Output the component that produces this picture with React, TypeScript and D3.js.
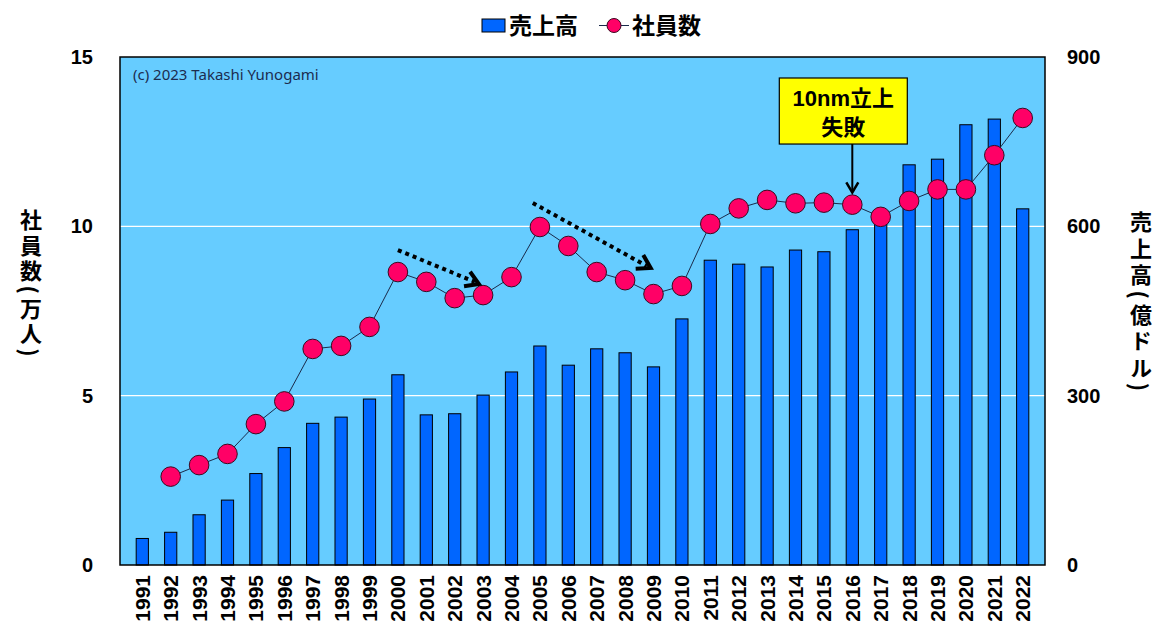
import React, { useEffect, useRef } from "react";
import * as d3 from "d3";

// fiscal years
const years: string[] = [
  "1991", "1992", "1993", "1994", "1995", "1996", "1997", "1998", "1999", "2000",
  "2001", "2002", "2003", "2004", "2005", "2006", "2007", "2008", "2009", "2010",
  "2011", "2012", "2013", "2014", "2015", "2016", "2017", "2018", "2019", "2020",
  "2021", "2022",
];

// 売上高 (億ドル)
const sales: number[] = [
  47, 58, 89, 115, 162, 208, 251, 262, 294, 337,
  266, 268, 301, 342, 388, 354, 383, 376, 351, 436,
  540, 533, 528, 558, 555, 594, 608, 709, 719, 780,
  790, 631,
];

// 社員数 (万人), no value for 1991
const employees: (number | null)[] = [
  null, 2.61, 2.95, 3.28, 4.16, 4.83, 6.38, 6.47, 7.03, 8.65,
  8.36, 7.88, 7.97, 8.5, 9.98, 9.42, 8.65, 8.41, 8.0, 8.24,
  10.07, 10.53, 10.78, 10.68, 10.7, 10.64, 10.28, 10.75, 11.09, 11.09,
  12.1, 13.2,
];

const leftTicks = [0, 5, 10, 15];
const rightTicks = [0, 300, 600, 900];

// dotted trend arrows: [year, 社員数] from -> to
const trendArrows = [
  { from: [2000, 9.3], to: [2002.85, 8.3] },
  { from: [2004.75, 10.69], to: [2008.9, 8.77] },
];

const noteLines = ["10nm立上", "失敗"];
const noteYear = "2016";

// half-width brackets so they turn sideways and stay short in vertical text
const leftTitle = "社員数(万人)";
const rightTitle = "売上高(億ドル)";

const W = 1165;
const H = 638;
const M = { left: 120, right: 120, top: 57, bottom: 73 };

const cjk = "'Noto Sans CJK JP', sans-serif";
const tickFont = "'Liberation Sans', Arial, sans-serif";

const App: React.FC = () => {
  const svgRef = useRef<SVGSVGElement | null>(null);

  useEffect(() => {
    const svg = d3.select(svgRef.current);
    svg.selectAll("*").remove();

    const iw = W - M.left - M.right;
    const ih = H - M.top - M.bottom;

    const x = d3.scaleBand<string>().domain(years).range([0, iw]).padding(0.57);
    const yL = d3.scaleLinear().domain([0, 15]).range([ih, 0]);
    const yR = d3.scaleLinear().domain([0, 900]).range([ih, 0]);
    // continuous x for annotations in year units
    const xYear = (yr: number) =>
      (x(years[0]) as number) + x.bandwidth() / 2 + (yr - +years[0]) * x.step();

    const g = svg.append("g").attr("transform", `translate(${M.left},${M.top})`);

    g.append("rect")
      .attr("width", iw)
      .attr("height", ih)
      .attr("fill", "#66CCFF");

    // grid lines
    g.selectAll("line.grid")
      .data([5, 10])
      .enter()
      .append("line")
      .attr("x1", 0)
      .attr("x2", iw)
      .attr("y1", (d) => yL(d))
      .attr("y2", (d) => yL(d))
      .attr("stroke", "#fff")
      .attr("stroke-width", 1.2);

    // bars
    g.selectAll("rect.bar")
      .data(sales)
      .enter()
      .append("rect")
      .attr("x", (d, i) => x(years[i]) as number)
      .attr("y", (d) => yR(d))
      .attr("width", x.bandwidth())
      .attr("height", (d) => ih - yR(d))
      .attr("fill", "#0066FF")
      .attr("stroke", "#000")
      .attr("stroke-width", 1);

    // employee line
    const pts = employees
      .map((v, i) => ({ v, yr: years[i] }))
      .filter((d) => d.v !== null) as { v: number; yr: string }[];

    const line = d3
      .line<{ v: number; yr: string }>()
      .x((d) => (x(d.yr) as number) + x.bandwidth() / 2)
      .y((d) => yL(d.v));

    g.append("path")
      .datum(pts)
      .attr("d", line)
      .attr("fill", "none")
      .attr("stroke", "#1a2a4a")
      .attr("stroke-width", 1);

    g.selectAll("circle.pt")
      .data(pts)
      .enter()
      .append("circle")
      .attr("cx", (d) => (x(d.yr) as number) + x.bandwidth() / 2)
      .attr("cy", (d) => yL(d.v))
      .attr("r", 9.8)
      .attr("fill", "#FF0066")
      .attr("stroke", "#3a0a20")
      .attr("stroke-width", 1);

    // frame
    g.append("rect")
      .attr("width", iw)
      .attr("height", ih)
      .attr("fill", "none")
      .attr("stroke", "#000")
      .attr("stroke-width", 1.5);

    // copyright
    g.append("text")
      .attr("x", 13)
      .attr("y", 23)
      .attr("font-family", "'Noto Sans', sans-serif")
      .attr("font-size", 15)
      .attr("fill", "#1c2c50")
      .text("(c) 2023 Takashi Yunogami");

    // dotted trend arrows
    trendArrows.forEach((a) => {
      const x1 = xYear(a.from[0]);
      const y1 = yL(a.from[1]);
      const x2 = xYear(a.to[0]);
      const y2 = yL(a.to[1]);
      g.append("line")
        .attr("x1", x1)
        .attr("y1", y1)
        .attr("x2", x2 - 4)
        .attr("y2", y2 - 2)
        .attr("stroke", "#000")
        .attr("stroke-width", 4)
        .attr("stroke-dasharray", "4 4");
      const ang = Math.atan2(y2 - y1, x2 - x1);
      const len = 15;
      const spread = 0.55;
      const p1 = [x2 - len * Math.cos(ang - spread), y2 - len * Math.sin(ang - spread)];
      const p2 = [x2 - len * Math.cos(ang + spread), y2 - len * Math.sin(ang + spread)];
      g.append("path")
        .attr("d", `M${p1[0]},${p1[1]}L${x2},${y2}L${p2[0]},${p2[1]}`)
        .attr("fill", "none")
        .attr("stroke", "#000")
        .attr("stroke-width", 4)
        .attr("stroke-linejoin", "miter");
    });

    // annotation box
    const nx = (x(noteYear) as number) + x.bandwidth() / 2;
    const boxTop = yL(14.38);
    const boxBot = yL(12.43);
    const bx0 = nx - 73;
    const bw = 128;
    g.append("rect")
      .attr("x", bx0)
      .attr("y", boxTop)
      .attr("width", bw)
      .attr("height", boxBot - boxTop)
      .attr("fill", "#FFFF00")
      .attr("stroke", "#000")
      .attr("stroke-width", 1.2);
    noteLines.forEach((t, i) => {
      g.append("text")
        .attr("x", bx0 + bw / 2)
        .attr("y", boxTop + 28 + i * 29)
        .attr("text-anchor", "middle")
        .attr("font-family", "'Liberation Sans', 'Noto Sans CJK JP', sans-serif")
        .attr("font-weight", "bold")
        .attr("font-size", 22)
        .attr("fill", "#000")
        .text(t);
    });
    const tipY = yL(11.0);
    g.append("line")
      .attr("x1", nx)
      .attr("x2", nx)
      .attr("y1", boxBot)
      .attr("y2", tipY - 1)
      .attr("stroke", "#000")
      .attr("stroke-width", 2);
    g.append("path")
      .attr("d", `M${nx - 6},${tipY - 10}L${nx},${tipY}L${nx + 6},${tipY - 10}`)
      .attr("fill", "none")
      .attr("stroke", "#000")
      .attr("stroke-width", 2.5);

    // left ticks
    g.selectAll("text.lt")
      .data(leftTicks)
      .enter()
      .append("text")
      .attr("x", -27)
      .attr("y", (d) => yL(d))
      .attr("dy", "0.35em")
      .attr("text-anchor", "end")
      .attr("font-family", tickFont)
      .attr("font-weight", "bold")
      .attr("font-size", 20)
      .text((d) => d);

    // right ticks
    g.selectAll("text.rt")
      .data(rightTicks)
      .enter()
      .append("text")
      .attr("x", iw + 22)
      .attr("y", (d) => yR(d))
      .attr("dy", "0.35em")
      .attr("text-anchor", "start")
      .attr("font-family", tickFont)
      .attr("font-weight", "bold")
      .attr("font-size", 20)
      .text((d) => d);

    // x labels
    g.selectAll("text.xl")
      .data(years)
      .enter()
      .append("text")
      .attr(
        "transform",
        (d) => `translate(${(x(d) as number) + x.bandwidth() / 2},${ih + 10}) rotate(-90)`
      )
      .attr("dy", "0.36em")
      .attr("text-anchor", "end")
      .attr("font-family", tickFont)
      .attr("font-weight", "bold")
      .attr("font-size", 21)
      .text((d) => d);

    // axis titles (vertical)
    svg.append("text")
      .attr("x", 31)
      .attr("y", 209)
      .attr("font-family", cjk)
      .attr("font-weight", "bold")
      .attr("font-size", 22)
      .style("writing-mode", "vertical-rl")
      .style("letter-spacing", "3.5px")
      .text(leftTitle);
    svg.append("text")
      .attr("x", 1141)
      .attr("y", 211)
      .attr("font-family", cjk)
      .attr("font-weight", "bold")
      .attr("font-size", 22)
      .style("writing-mode", "vertical-rl")
      .style("letter-spacing", "4.5px")
      .text(rightTitle);

    // legend
    const lg = svg.append("g");
    lg.append("rect")
      .attr("x", 482)
      .attr("y", 19)
      .attr("width", 23)
      .attr("height", 13)
      .attr("fill", "#0066FF")
      .attr("stroke", "#000")
      .attr("stroke-width", 1);
    lg.append("text")
      .attr("x", 509)
      .attr("y", 34)
      .attr("font-family", cjk)
      .attr("font-weight", "bold")
      .attr("font-size", 23)
      .text("売上高");
    lg.append("line")
      .attr("x1", 599)
      .attr("x2", 629)
      .attr("y1", 25.5)
      .attr("y2", 25.5)
      .attr("stroke", "#1a2a4a")
      .attr("stroke-width", 1);
    lg.append("circle")
      .attr("cx", 614)
      .attr("cy", 25.5)
      .attr("r", 7)
      .attr("fill", "#FF0066")
      .attr("stroke", "#3a0a20")
      .attr("stroke-width", 1);
    lg.append("text")
      .attr("x", 632)
      .attr("y", 34)
      .attr("font-family", cjk)
      .attr("font-weight", "bold")
      .attr("font-size", 23)
      .text("社員数");
  }, []);

  return (
    <svg
      ref={svgRef}
      width={W}
      height={H}
      style={{ position: "absolute", left: 0, top: 0, background: "#fff" }}
    ></svg>
  );
};

export default App;
